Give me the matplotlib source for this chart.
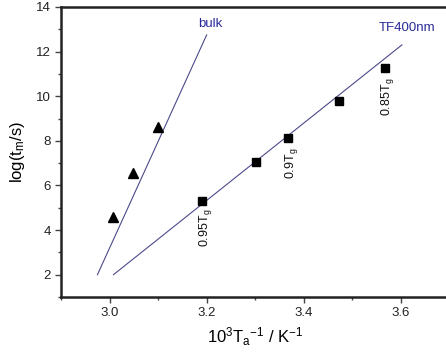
import matplotlib
matplotlib.use("Agg")
import matplotlib.pyplot as plt
from matplotlib.ticker import MultipleLocator

plt.rcParams['font.family'] = ['Liberation Sans', 'DejaVu Sans']
plt.rcParams['mathtext.fontset'] = 'custom'
plt.rcParams['mathtext.rm'] = 'Liberation Sans'
plt.rcParams['mathtext.it'] = 'Liberation Sans'

# data
bulk_x = [3.008, 3.049, 3.099]
bulk_y = [4.6, 6.55, 8.62]
tf_x = [3.19, 3.301, 3.367, 3.472, 3.567]
tf_y = [5.31, 7.06, 8.13, 9.79, 11.27]
bulk_fit_x = [2.975, 3.20]
bulk_fit_y = [2.0, 12.75]
tf_fit_x = [3.008, 3.602]
tf_fit_y = [2.0, 12.3]
labels = ['0.95T$_g$', '0.9T$_g$', '0.85T$_g$']
label_x = [3.198, 3.375, 3.573]
label_y = [4.1, 7.0, 9.97]

fig = plt.figure(figsize=(4.46, 3.6), dpi=100)
ax = fig.add_axes([0.1368, 0.175, 0.8710, 0.8056])

line_color = '#4a4a8a'
ax.plot(bulk_fit_x, bulk_fit_y, color=line_color, lw=0.8)
ax.plot(tf_fit_x, tf_fit_y, color=line_color, lw=0.8)
ax.plot(bulk_x, bulk_y, '^', color='black', ms=7)
ax.plot(tf_x, tf_y, 's', color='black', ms=6)

for t, x, y in zip(labels, label_x, label_y):
    ax.text(x, y, t, rotation=90, ha='center', va='center', fontsize=9, color='#111111')

ax.text(3.208, 13.24, 'bulk', color='#2a2a9a', fontsize=9.5, ha='center', va='center')
ax.text(3.612, 13.06, 'TF400nm', color='#2a2a9a', fontsize=9.5, ha='center', va='center')

ax.set_xlim(2.9, 3.7)
ax.set_ylim(1, 14)
ax.xaxis.set_major_locator(MultipleLocator(0.2))
ax.xaxis.set_minor_locator(MultipleLocator(0.1))
ax.yaxis.set_major_locator(MultipleLocator(2))
ax.yaxis.set_minor_locator(MultipleLocator(1))
ax.tick_params(which='both', direction='out', top=False, right=False, colors='#444444', labelcolor='#222222', labelsize=9.5)
ax.tick_params(which='major', length=4, width=1)
ax.tick_params(which='minor', length=2.5, width=1)
for s in ax.spines.values():
    s.set_linewidth(1.8)
    s.set_color('#222222')

ax.set_xlabel('10$^3$T$_a$$^{-1}$ / K$^{-1}$', fontsize=12, labelpad=4)
ax.set_ylabel('log(t$_m$/s)', fontsize=12, labelpad=6)

fig.savefig('out.png', dpi=100)
